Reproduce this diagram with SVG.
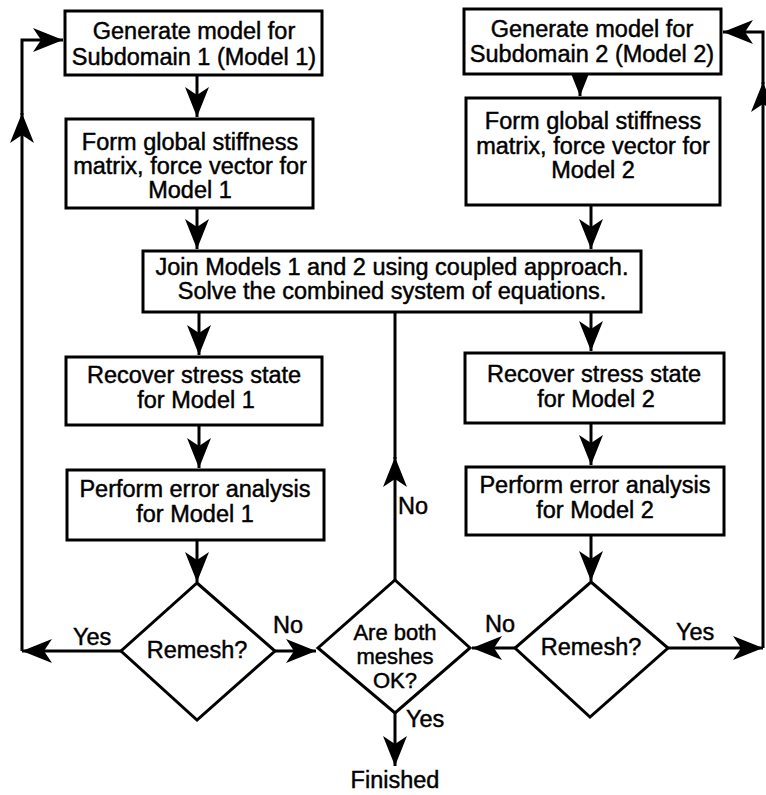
<svg xmlns="http://www.w3.org/2000/svg" width="766" height="795" viewBox="0 0 766 795">
<style>
.box{fill:#fff;stroke:#000;stroke-width:3}
.t{font-family:"Liberation Sans",Arial,Helvetica,sans-serif;font-size:23.5px;fill:#000;stroke:#000;stroke-width:0.45;text-anchor:middle}
.d{font-size:22px}
.l{font-family:"Liberation Sans",Arial,Helvetica,sans-serif;font-size:23.5px;fill:#000;stroke:#000;stroke-width:0.45}
.c{fill:none;stroke:#000;stroke-width:3;stroke-linecap:butt;stroke-linejoin:miter}
</style>
<defs>
<marker id="ah" markerUnits="userSpaceOnUse" markerWidth="32" markerHeight="28" viewBox="-31 -14 32 28" refX="0" refY="0" orient="auto">
<path d="M0,0 L-30,-12 L-22,0 L-30,12 Z" fill="#000"/>
</marker>
</defs>
<rect width="766" height="795" fill="#fff"/>
<g id="connectors">
<path class="c" d="M197,75 V117" marker-end="url(#ah)"/>
<path class="c" d="M197,208 V249" marker-end="url(#ah)"/>
<path class="c" d="M199,312 V355" marker-end="url(#ah)"/>
<path class="c" d="M199,425 V468" marker-end="url(#ah)"/>
<path class="c" d="M197,540 V582" marker-end="url(#ah)"/>
<path class="c" d="M121,651 H22" marker-end="url(#ah)"/>
<path class="c" d="M22,651 V113"  marker-end="url(#ah)"/>
<path class="c" d="M22,115 V40 H63" marker-end="url(#ah)"/>
<path class="c" d="M275,651 H316" marker-end="url(#ah)"/>
<path class="c" d="M515,648 H472" marker-end="url(#ah)"/>
<path class="c" d="M395,580 V457" marker-end="url(#ah)"/>
<path class="c" d="M395,459 V312"/>
<path class="c" d="M395,713 V766" marker-end="url(#ah)"/>
<path class="c" d="M668,648 H763" marker-end="url(#ah)"/>
<path class="c" d="M763,648 V82" marker-end="url(#ah)"/>
<path class="c" d="M763,84 V32 H723" marker-end="url(#ah)"/>
<path class="c" d="M580,74 V96" marker-end="url(#ah)"/>
<path class="c" d="M591,205 V249" marker-end="url(#ah)"/>
<path class="c" d="M591,312 V351" marker-end="url(#ah)"/>
<path class="c" d="M591,423 V465" marker-end="url(#ah)"/>
<path class="c" d="M591,535 V581" marker-end="url(#ah)"/>
</g>
<g id="gen1">
<rect class="box" x="65" y="11" width="257" height="64"/>
<text class="t" x="194" y="39">Generate model for</text>
<text class="t" x="194" y="65">Subdomain 1 (Model 1)</text>
</g>
<g id="form1">
<rect class="box" x="66" y="119" width="247" height="89"/>
<text class="t" x="190" y="150">Form global stiffness</text>
<text class="t" x="190" y="174">matrix, force vector for</text>
<text class="t" x="190" y="198">Model 1</text>
</g>
<g id="gen2">
<rect class="box" x="464" y="9" width="257" height="65"/>
<text class="t" x="592" y="37">Generate model for</text>
<text class="t" x="592" y="62">Subdomain 2 (Model 2)</text>
</g>
<g id="form2">
<rect class="box" x="466" y="98" width="254" height="107"/>
<text class="t" x="593" y="129">Form global stiffness</text>
<text class="t" x="593" y="154">matrix, force vector for</text>
<text class="t" x="593" y="178">Model 2</text>
</g>
<g id="join">
<rect class="box" x="143" y="251" width="498" height="61"/>
<text class="t" x="392" y="275">Join Models 1 and 2 using coupled approach.</text>
<text class="t" x="392" y="299">Solve the combined system of equations.</text>
</g>
<g id="recover1">
<rect class="box" x="66" y="357" width="256" height="68"/>
<text class="t" x="194" y="383">Recover stress state</text>
<text class="t" x="196" y="408">for Model 1</text>
</g>
<g id="error1">
<rect class="box" x="67" y="470" width="257" height="70"/>
<text class="t" x="195" y="497">Perform error analysis</text>
<text class="t" x="195" y="522">for Model 1</text>
</g>
<g id="recover2">
<rect class="box" x="465" y="353" width="259" height="70"/>
<text class="t" x="594" y="382">Recover stress state</text>
<text class="t" x="596" y="407">for Model 2</text>
</g>
<g id="error2">
<rect class="box" x="466" y="467" width="258" height="68"/>
<text class="t" x="595" y="493">Perform error analysis</text>
<text class="t" x="595" y="518">for Model 2</text>
</g>
<g id="remesh1">
<polygon class="box" points="197,583 275,651 197,720 121,651"/>
<text class="t" x="197" y="658">Remesh?</text>
</g>
<g id="bothok">
<polygon class="box" points="395,580 470,648 395,713 318,648"/>
<text class="t d" x="395" y="640">Are both</text>
<text class="t d" x="395" y="664">meshes</text>
<text class="t d" x="395" y="688">OK?</text>
</g>
<g id="remesh2">
<polygon class="box" points="591,582 668,648 590,717 515,648"/>
<text class="t" x="591" y="655">Remesh?</text>
</g>
<g id="finished">
<text class="t" x="395" y="788">Finished</text>
</g>
<g id="labels">
<text class="l" x="73" y="645">Yes</text>
<text class="l" x="273" y="633">No</text>
<text class="l" x="398" y="514">No</text>
<text class="l" x="485" y="632">No</text>
<text class="l" x="676" y="640">Yes</text>
<text class="l" x="406" y="727">Yes</text>
</g>
</svg>
